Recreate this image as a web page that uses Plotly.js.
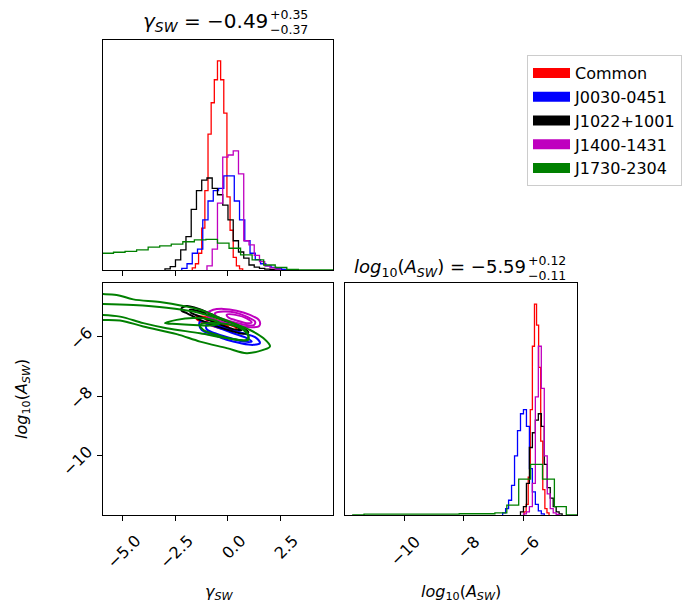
<!DOCTYPE html>
<html><head><meta charset="utf-8">
<script src="https://cdn.plot.ly/plotly-3.0.1.min.js"></script>
<style>html,body{margin:0;padding:0;background:#fff}</style>
</head><body><div id="chart" style="width:684px;height:602px"></div>
<script>
// ---------- series ----------
const seriesNames = ['Common', 'J0030-0451', 'J1022+1001', 'J1400-1431', 'J1730-2304'];
const seriesColors = ['#ff0000', '#0000ff', '#000000', '#bf00bf', '#008000'];

// ---------- 1D histogram of gamma_SW (bin start, bin width, counts) ----------
const gammaBinLo = [-1.7, -2.2, -3.0, -1.0, -6.0];
const gammaBinWidth = [0.15, 0.25, 0.25, 0.25, 0.55];
const gammaCommon = [1, 3, 8, 20, 38, 65, 80, 91, 100, 91, 75, 35, 19, 6, 2, 0.5];
const gammaJ0030 = [0.8, 3, 8, 10, 24, 33, 38, 39, 45, 45, 33, 24, 14, 8, 5, 3, 2, 1.3, 0.8, 0.3];
const gammaJ1022 = [0.5, 1.6, 4.8, 9.6, 16, 29, 38, 43, 44, 39, 36, 31, 24, 14, 8.6, 5.7, 2.4, 1.4, 0.8, 0.4, 0.3, 0.1];
const gammaJ1400 = [2, 10, 32, 54, 55, 57, 46, 14, 12, 7, 4, 2, 1, 0.4];
const gammaJ1730 = [8.0, 8.5, 8.9, 9.6, 10.9, 11.5, 12.4, 13.5, 14.4, 14.6, 12.9, 10.4, 7.2, 4.8, 2.4, 1.2, 0.25, 0.1, 0.05, 0.02];

// ---------- 1D histogram of log10(A_SW) ----------
const logABinLo = [-5.98, -6.7, -6.1, -6.0, -11.76];
const logABinWidth = [0.07, 0.1, 0.1, 0.1, 0.4];
const logACommon = [1.5, 5, 18, 50, 80, 100, 90, 70, 35, 12, 3, 1];
const logAJ0030 = [1, 3, 7, 14, 28, 40, 48, 50, 42, 22, 11, 5, 2, 0.5];
const logAJ1022 = [1.5, 4, 15, 32, 39, 45, 48, 42, 24, 13, 8, 4, 1.5, 0.5];
const logAJ1400 = [0.5, 1.5, 4, 15, 56, 80, 60, 28, 10, 3, 1, 0.3];
const logAJ1730 = [0, 0.4, 0.4, 0.4, 0.4, 0.4, 0.4, 0.4, 0.4, 0.6, 0.6, 0.6, 1, 4.7, 17, 24, 17, 4, 0];

// ---------- 2D contour lines (gamma_SW, log10 A_SW) ----------
const contourCommonX = [[-1.49, -1.02, -0.22, 0.41, 0.25, -0.38, -1.17, -1.49, -1.49], [-1.02, -0.38, 0.02, -0.38, -0.94, -1.02]];
const contourCommonY = [[-5.33, -5.35, -5.53, -5.72, -5.80, -5.72, -5.53, -5.42, -5.33], [-5.44, -5.55, -5.66, -5.66, -5.53, -5.44]];
const contourJ0030X = [[-1.33, -0.86, -0.06, 0.73, 1.29, 1.52, 1.21, 0.57, -0.06, -0.70, -1.25, -1.37, -1.33], [-1.02, -0.38, 0.25, 0.89, 1.13, 0.73, 0.10, -0.62, -1.02, -1.02]];
const contourJ0030Y = [[-5.50, -5.55, -5.72, -5.89, -6.02, -6.22, -6.28, -6.22, -6.11, -5.94, -5.78, -5.61, -5.50], [-5.61, -5.72, -5.89, -6.05, -6.17, -6.17, -6.05, -5.89, -5.75, -5.61]];
const contourJ1022X = [[-2.21, -1.97, -1.49, -0.86, -0.06, 0.73, 0.97, 0.73, 0.25, -0.54, -1.33, -1.94, -2.21, -2.21], [-1.81, -1.33, -0.54, 0.25, 0.65, 0.25, -0.54, -1.33, -1.78, -1.81]];
const contourJ1022Y = [[-5.05, -4.97, -5.05, -5.22, -5.50, -5.72, -5.86, -5.91, -5.83, -5.66, -5.44, -5.22, -5.13, -5.05], [-5.10, -5.16, -5.35, -5.61, -5.78, -5.75, -5.55, -5.33, -5.19, -5.10]];
const contourJ1400X = [[-0.98, -0.70, -0.22, 0.41, 1.05, 1.49, 1.49, 1.13, 0.57, -0.06, -0.62, -0.98, -0.98], [-0.62, -0.22, 0.33, 0.89, 1.29, 1.24, 0.89, 0.33, -0.22, -0.57, -0.62], [-0.06, 0.41, 0.89, 1.13, 0.89, 0.41, 0.02, -0.06]];
const contourJ1400Y = [[-5.22, -5.10, -5.07, -5.13, -5.27, -5.46, -5.64, -5.69, -5.64, -5.55, -5.44, -5.31, -5.22], [-5.22, -5.16, -5.19, -5.33, -5.50, -5.61, -5.61, -5.53, -5.42, -5.31, -5.22], [-5.27, -5.28, -5.39, -5.53, -5.55, -5.46, -5.36, -5.27]];
const contourJ1730X = [[-7.68, -6.10, -5.30, -4.51, -3.24, -2.13, -1.33, -0.54, 0.25, 1.05, 1.68, 2.00, 1.68, 0.89, -0.06, -1.33, -2.44, -4.03, -5.14, -6.10, -7.68, -7.68],
  [-7.68, -6.10, -4.51, -2.92, -1.65, -0.54, 0.57, 0.97, 0.89, -0.06, -1.33, -2.92, -4.03, -5.14, -6.10, -7.68, -7.68],
  [-3.00, -2.44, -1.65, -0.86, -0.38, -0.86, -1.65, -2.44, -3.00],
  [-1.33, -0.54, 0.41, 0.89, 0.97, 0.25, -0.54, -1.17, -1.33]];
const contourJ1730Y = [[-4.54, -4.57, -4.60, -4.75, -4.84, -4.97, -5.10, -5.33, -5.55, -5.78, -6.05, -6.33, -6.45, -6.56, -6.39, -6.17, -5.92, -5.66, -5.46, -5.44, -5.42, -4.54],
  [-4.89, -4.90, -4.94, -5.03, -5.16, -5.38, -5.66, -5.94, -6.11, -6.05, -5.89, -5.72, -5.55, -5.33, -5.27, -5.26, -4.89],
  [-5.55, -5.44, -5.38, -5.42, -5.55, -5.63, -5.61, -5.58, -5.55],
  [-5.61, -5.55, -5.66, -5.89, -6.11, -6.09, -5.94, -5.78, -5.61]];

// ---------- axes ----------
const gammaTickVals = [-5, -2.5, 0, 2.5];
const gammaTickText = ['\u22125.0', '\u22122.5', '0.0', '2.5'];
const logATickVals = [-10, -8, -6];
const gammaRange = [-5.95, 5.0];
const logARange = [-12.0, -4.2];

// ---------- titles ----------
const gammaTitleMain = '<i>\u03b3</i><sub><i>SW</i></sub> = \u22120.49';
const gammaTitleUp = '+0.35';
const gammaTitleDown = '\u22120.37';
const logATitleMain = '<i>log</i><sub>10</sub>(<i>A</i><sub><i>SW</i></sub>) = \u22125.59';
const logATitleUp = '+0.12';
const logATitleDown = '\u22120.11';
const gammaLabel = '<i>\u03b3</i><sub><i>SW</i></sub>';
const logALabel = '<i>log</i><sub>10</sub>(<i>A</i><sub><i>SW</i></sub>)';

// ---------- build ----------
function stepXY(lo, w, counts) {
  const xs = [lo], ys = [0];
  for (let i = 0; i < counts.length; i++) { xs.push(lo + i * w); ys.push(counts[i]); }
  xs.push(lo + counts.length * w); ys.push(0);
  return { xs, ys };
}
function joinLoops(loopsX, loopsY) {
  const xs = [], ys = [];
  loopsX.forEach((lx, k) => { if (k) { xs.push(null); ys.push(null); } xs.push(...lx); ys.push(...loopsY[k]); });
  return { xs, ys };
}
const gammaHists = [gammaCommon, gammaJ0030, gammaJ1022, gammaJ1400, gammaJ1730];
const logAHists = [logACommon, logAJ0030, logAJ1022, logAJ1400, logAJ1730];
const contX = [contourCommonX, contourJ0030X, contourJ1022X, contourJ1400X, contourJ1730X];
const contY = [contourCommonY, contourJ0030Y, contourJ1022Y, contourJ1400Y, contourJ1730Y];

const traces = [];
for (let s = 0; s < seriesNames.length; s++) {
  const g = stepXY(gammaBinLo[s], gammaBinWidth[s], gammaHists[s]);
  traces.push({ type: 'scatter', mode: 'lines', x: g.xs, y: g.ys, xaxis: 'x', yaxis: 'y',
    line: { color: seriesColors[s], width: 1.3, shape: 'hv' }, showlegend: false, hoverinfo: 'skip' });
  const a = stepXY(logABinLo[s], logABinWidth[s], logAHists[s]);
  traces.push({ type: 'scatter', mode: 'lines', x: a.xs, y: a.ys, xaxis: 'x3', yaxis: 'y3',
    line: { color: seriesColors[s], width: 1.3, shape: 'hv' }, showlegend: false, hoverinfo: 'skip' });
  const c = joinLoops(contX[s], contY[s]);
  traces.push({ type: 'scatter', mode: 'lines', x: c.xs, y: c.ys, xaxis: 'x2', yaxis: 'y2',
    line: { color: seriesColors[s], width: 2, shape: 'spline', smoothing: 1 }, connectgaps: false,
    showlegend: false, hoverinfo: 'skip' });
}
// legend entries
for (let s = 0; s < seriesNames.length; s++) {
  traces.push({ type: 'scatter', mode: 'lines', x: [null], y: [null], xaxis: 'x', yaxis: 'y',
    name: seriesNames[s], line: { color: seriesColors[s], width: 10 }, showlegend: true, hoverinfo: 'skip' });
}

const W = 684, H = 602;
const px = v => v / W, py = v => 1 - v / H;
const frame = { showline: true, mirror: true, linecolor: '#000', linewidth: 1, showgrid: false, zeroline: false,
  ticks: 'outside', ticklen: 5, tickwidth: 1, tickcolor: '#000' };
const noTicks = { showline: true, mirror: true, linecolor: '#000', linewidth: 1, showgrid: false, zeroline: false,
  ticks: '', showticklabels: false };

const layout = {
  width: W, height: H, margin: { l: 0, r: 0, t: 0, b: 0 },
  paper_bgcolor: '#fff', plot_bgcolor: '#fff',
  font: { family: 'DejaVu Sans', size: 16, color: '#000' },
  hovermode: false,
  xaxis: Object.assign({}, frame, { domain: [px(103), px(333)], anchor: 'y', range: gammaRange,
    tickvals: gammaTickVals, showticklabels: false }),
  yaxis: Object.assign({}, noTicks, { domain: [py(270), py(40)], anchor: 'x', range: [0, 110] }),
  xaxis2: Object.assign({}, frame, { domain: [px(103), px(333)], anchor: 'y2', range: gammaRange,
    tickvals: gammaTickVals, ticktext: gammaTickText, tickangle: -45, ticklabelshift: 13, ticklabelstandoff: 4 }),
  yaxis2: Object.assign({}, frame, { domain: [py(515), py(283)], anchor: 'x2', range: logARange,
    tickvals: logATickVals, tickangle: -45, ticklabelshift: -6, ticklabelstandoff: 6 }),
  xaxis3: Object.assign({}, frame, { domain: [px(345), px(577)], anchor: 'y3', range: logARange,
    tickvals: logATickVals, tickangle: -45, ticklabelshift: 11, ticklabelstandoff: 5 }),
  yaxis3: Object.assign({}, noTicks, { domain: [py(515), py(283)], anchor: 'x3', range: [0, 110] }),
  showlegend: true,
  legend: { x: px(527), y: py(55), xanchor: 'left', yanchor: 'top', bgcolor: '#fff',
    bordercolor: '#cccccc', borderwidth: 1, font: { size: 16 }, itemwidth: 37 },
  annotations: [
    { xref: 'paper', yref: 'paper', x: px(270), y: py(22), xanchor: 'right', yanchor: 'middle', showarrow: false,
      text: gammaTitleMain, font: { size: 20 } },
    { xref: 'paper', yref: 'paper', x: px(268), y: py(15), xanchor: 'left', yanchor: 'middle', showarrow: false,
      text: gammaTitleUp, font: { size: 12.5 } },
    { xref: 'paper', yref: 'paper', x: px(268), y: py(29.5), xanchor: 'left', yanchor: 'middle', showarrow: false,
      text: gammaTitleDown, font: { size: 12.5 } },
    { xref: 'paper', yref: 'paper', x: px(528), y: py(268), xanchor: 'right', yanchor: 'middle', showarrow: false,
      text: logATitleMain, font: { size: 18 } },
    { xref: 'paper', yref: 'paper', x: px(526), y: py(260.5), xanchor: 'left', yanchor: 'middle', showarrow: false,
      text: logATitleUp, font: { size: 12.5 } },
    { xref: 'paper', yref: 'paper', x: px(526), y: py(275), xanchor: 'left', yanchor: 'middle', showarrow: false,
      text: logATitleDown, font: { size: 12.5 } },
    { xref: 'paper', yref: 'paper', x: px(219), y: py(592), xanchor: 'center', yanchor: 'middle', showarrow: false,
      text: gammaLabel, font: { size: 16 } },
    { xref: 'paper', yref: 'paper', x: px(461), y: py(592), xanchor: 'center', yanchor: 'middle', showarrow: false,
      text: logALabel, font: { size: 16 } },
    { xref: 'paper', yref: 'paper', x: px(22), y: py(399), xanchor: 'center', yanchor: 'middle', showarrow: false,
      text: logALabel, textangle: -90, font: { size: 16 } }
  ]
};

Plotly.newPlot('chart', traces, layout, { staticPlot: true, displayModeBar: false });
</script>
</body></html>
